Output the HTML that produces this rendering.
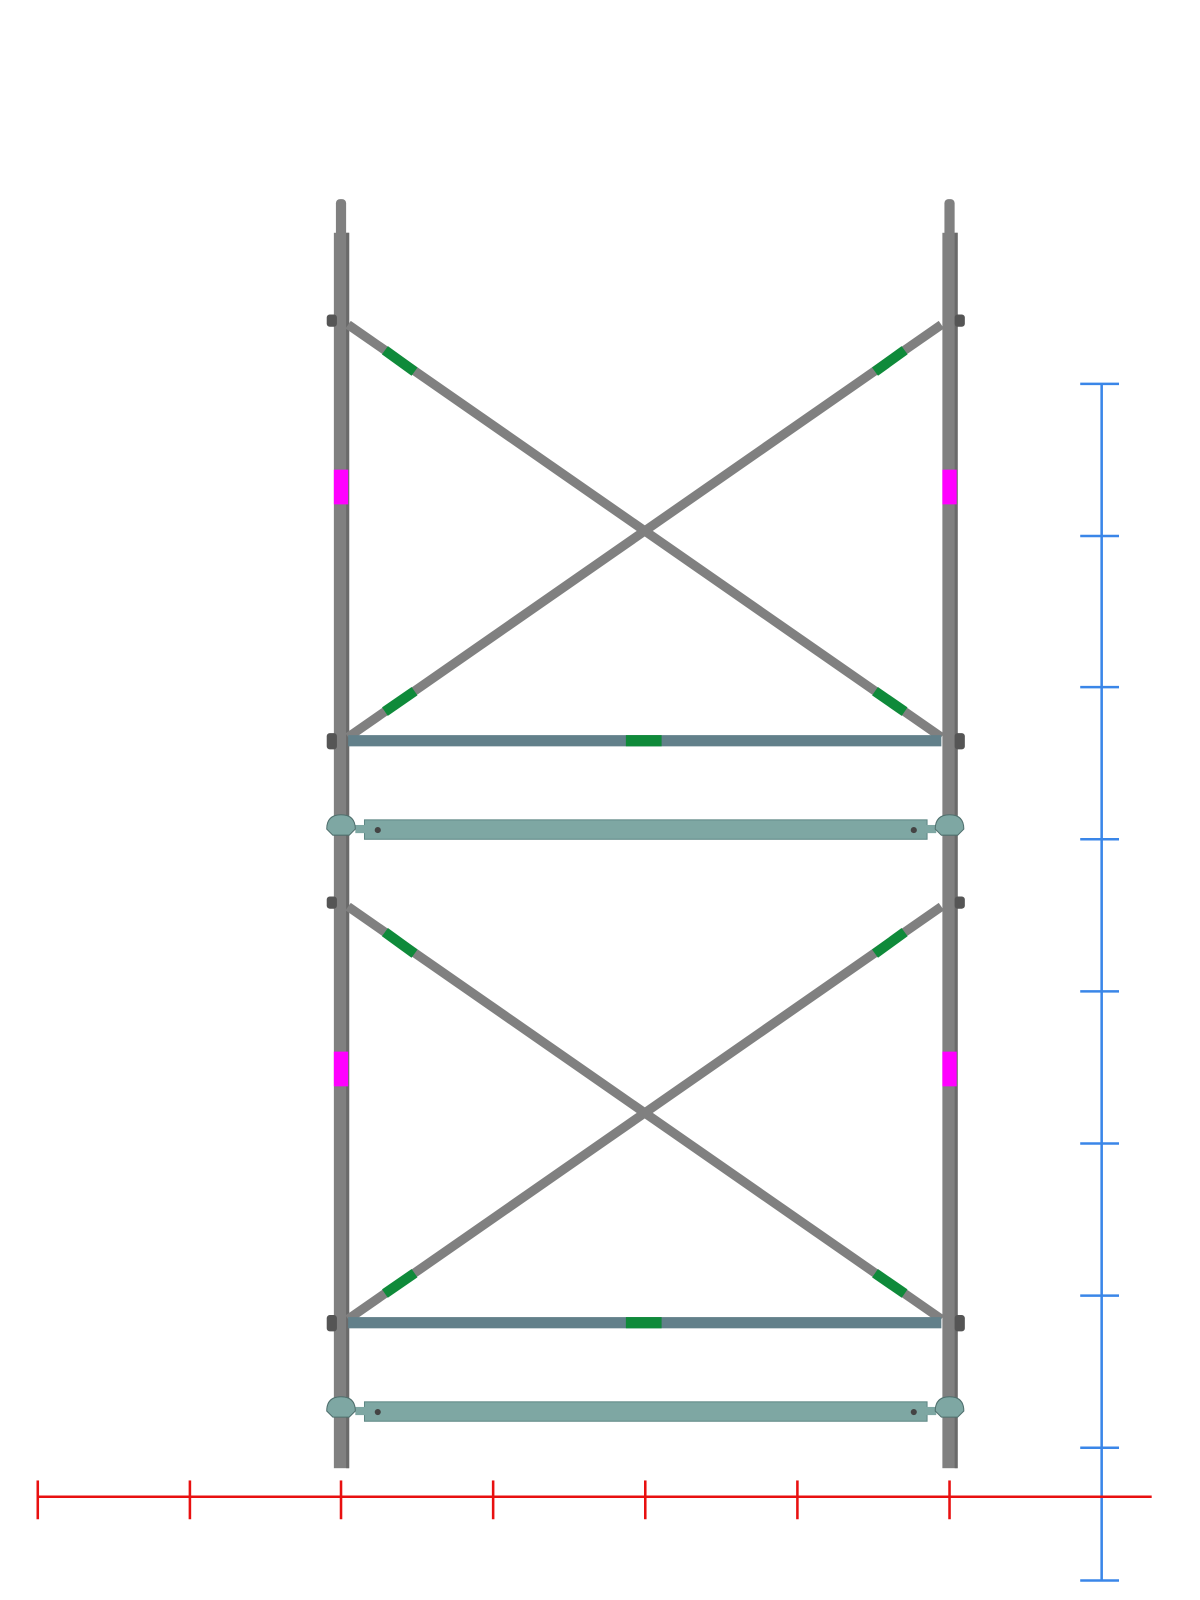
<!DOCTYPE html>
<html><head><style>body{margin:0;background:#fff}svg{display:block}</style></head><body>
<svg width="1200" height="1600" xmlns="http://www.w3.org/2000/svg">
<defs>
<g id="half">
  <line x1="341" y1="318" x2="922" y2="722" stroke="#808080" stroke-width="9"/>
  <line x1="341" y1="722" x2="922" y2="318" stroke="#808080" stroke-width="9"/>
  <line x1="377" y1="343" x2="406" y2="364" stroke="#0f8a3a" stroke-width="10"/>
  <line x1="857" y1="677" x2="886" y2="697" stroke="#0f8a3a" stroke-width="10"/>
  <line x1="377" y1="697" x2="406" y2="677" stroke="#0f8a3a" stroke-width="10"/>
  <line x1="857" y1="364" x2="886" y2="343" stroke="#0f8a3a" stroke-width="10"/>
  <rect x="341" y="720" width="581" height="11" fill="#62808a"/>
  <rect x="613" y="720" width="35" height="11" fill="#0f8a3a"/>
  <rect x="357" y="803" width="551" height="19" fill="#7ea7a3" stroke="#5e8784" stroke-width="1"/>
  <rect x="348" y="808" width="12" height="8" fill="#7ea7a3"/>
  <rect x="905" y="808" width="12" height="8" fill="#7ea7a3"/>
  <circle cx="370" cy="813" r="3" fill="#444"/>
  <circle cx="895" cy="813" r="3" fill="#444"/>
  <path d="M320 812 q0 -14 14 -14 q14 0 14 14 l-6 6 h-16z" fill="#7ea7a3" stroke="#4f6f6d"/>
  <path d="M944 812 q0 -14 -14 -14 q-14 0 -14 14 l6 6 h16z" fill="#7ea7a3" stroke="#4f6f6d"/>
  <rect x="320" y="718" width="10" height="16" rx="3" fill="#555"/>
  <rect x="935" y="718" width="10" height="16" rx="3" fill="#555"/>
  <rect x="320" y="308" width="10" height="12" rx="3" fill="#555"/>
  <rect x="935" y="308" width="10" height="12" rx="3" fill="#555"/>
  <rect x="327" y="460" width="14" height="34" fill="#ff00ff"/>
  <rect x="923" y="460" width="14" height="34" fill="#ff00ff"/>
</g>
</defs>
<g transform="scale(1.021)">
<rect x="329" y="195" width="10" height="40" rx="4" fill="#808080"/>
<rect x="925" y="195" width="10" height="40" rx="4" fill="#808080"/>
<rect x="327" y="228" width="15" height="1210" fill="#808080"/>
<rect x="923" y="228" width="15" height="1210" fill="#808080"/>
<rect x="339" y="228" width="3" height="1210" fill="#6a6a6a"/>
<rect x="935" y="228" width="3" height="1210" fill="#6a6a6a"/>
<use href="#half"/>
<use href="#half" y="570"/>
<g stroke="#3a86e8" stroke-width="2.5">
<line x1="1079" y1="376" x2="1079" y2="1548"/>
<line x1="1058" y1="376" x2="1096" y2="376"/>
<line x1="1058" y1="525" x2="1096" y2="525"/>
<line x1="1058" y1="673" x2="1096" y2="673"/>
<line x1="1058" y1="822" x2="1096" y2="822"/>
<line x1="1058" y1="971" x2="1096" y2="971"/>
<line x1="1058" y1="1120" x2="1096" y2="1120"/>
<line x1="1058" y1="1269" x2="1096" y2="1269"/>
<line x1="1058" y1="1418" x2="1096" y2="1418"/>
<line x1="1058" y1="1548" x2="1096" y2="1548"/>
</g>
<g stroke="#e81010" stroke-width="2.5">
<line x1="37" y1="1466" x2="1128" y2="1466"/>
<line x1="37" y1="1450" x2="37" y2="1488"/>
<line x1="186" y1="1450" x2="186" y2="1488"/>
<line x1="334" y1="1450" x2="334" y2="1488"/>
<line x1="483" y1="1450" x2="483" y2="1488"/>
<line x1="632" y1="1450" x2="632" y2="1488"/>
<line x1="781" y1="1450" x2="781" y2="1488"/>
<line x1="930" y1="1450" x2="930" y2="1488"/>
</g>
</g>
</svg>
</body></html>
